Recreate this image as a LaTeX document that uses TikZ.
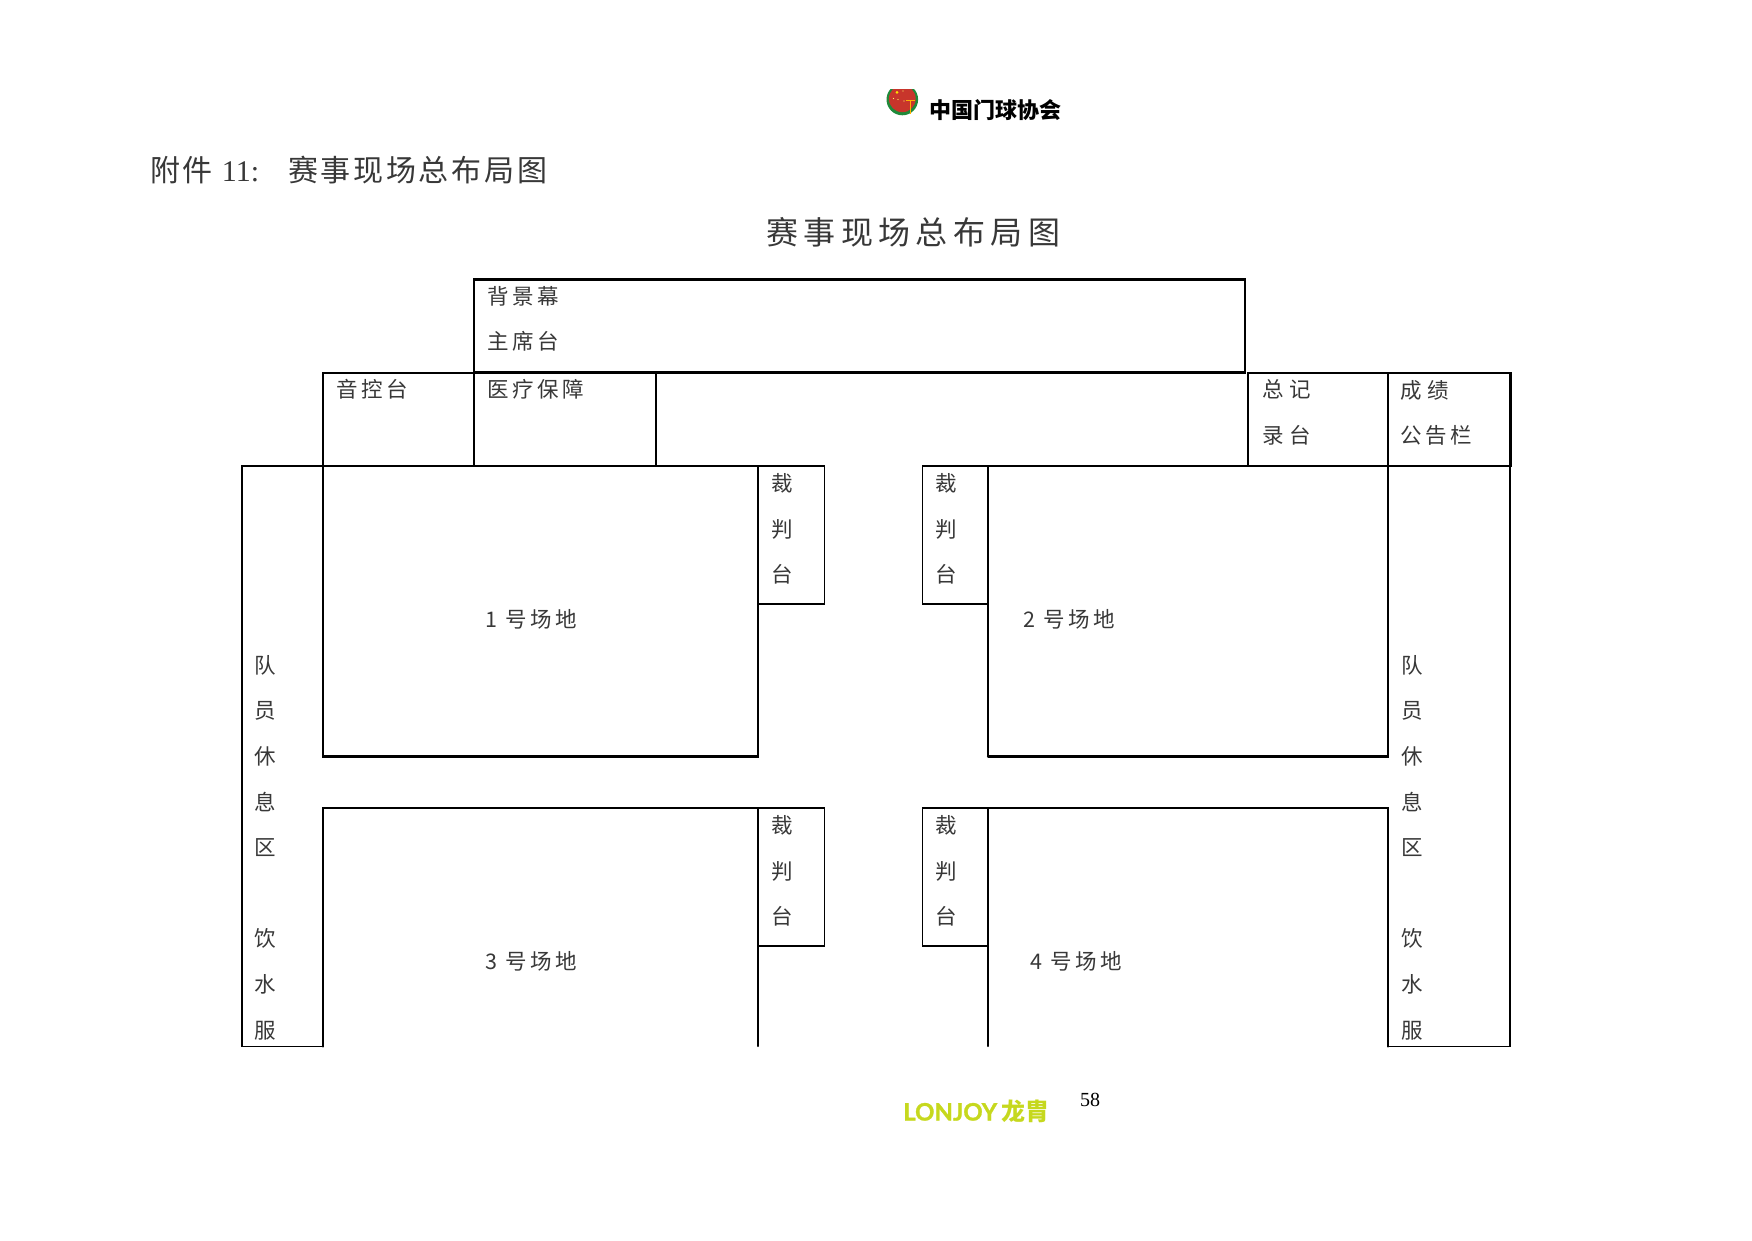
\documentclass[tikz,border=0pt]{standalone}
\usepackage{fontspec}
\setmainfont{Liberation Serif}
\newfontfamily\cjk{Noto Sans CJK SC}
\newfontfamily\lj[BoldFeatures={FakeBold=1.2}]{Lato}
\definecolor{ink}{gray}{0.22}
\definecolor{lime}{HTML}{C6D81E}
\definecolor{logored}{HTML}{C8352B}
\definecolor{logogreen}{HTML}{1F8A3A}
\newcommand\headcjk{\cjk\fontsize{30}{30}\selectfont\addfontfeature{LetterSpace=9}}
\tikzset{
  thick line/.style={line width=2.3pt,line cap=round,line join=miter},
  thin line/.style={line width=1.1pt,line cap=round},
  lab/.style={inner sep=0pt,anchor=west,text=ink,font=\cjk\fontsize{21.5}{21.5}\selectfont\addfontfeature{LetterSpace=16}},
  widelab/.style={lab,font=\cjk\fontsize{21.5}{21.5}\selectfont\addfontfeature{LetterSpace=25}},
  col/.style={inner sep=0pt,anchor=north,text=ink,align=center,font=\cjk\fontsize{21.5}{45.6}\selectfont},
}
\begin{document}
\begin{tikzpicture}[x=1pt,y=-1pt]
\useasboundingbox (0,0) rectangle (1752,1240);
% logo
\begin{scope}
\clip (880,89) rectangle (925,120);
\fill[logogreen] (902.3,99.5) circle (15.8);
\fill[logored] (902.3,98.8) circle (13.4);
\end{scope}
\fill[yellow!85!orange] (897,92.3) circle (1.5);
\foreach \p in {(903,91),(904,101),(898,99.5),(893.5,98.5)} \fill[yellow!60!white] \p circle (0.7);
\draw[orange!60!yellow,line width=0.8pt] (906,100) -- (915,100) (910,100) -- (910,114);
\node[inner sep=0pt,anchor=west,font=\cjk\bfseries\fontsize{22}{22}\selectfont] (assoc) at (929.5,110) {中国门球协会};
% headings
\node[inner sep=0pt,anchor=west,text=ink,font=\fontsize{30}{30}\selectfont] (head) at (150,170) {{\headcjk 附件}\hspace{9pt}11:\hspace{29pt}{\headcjk 赛事现场总布局图}};
\node[lab,font=\cjk\fontsize{32}{32}\selectfont\addfontfeature{LetterSpace=17}] (title) at (766,232.5) {赛事现场总布局图};
% boxes
\draw[thick line] (474,279.5) rectangle (1245,372.5);
\draw[thin line] (323,466) -- (323,373) -- (474,373);
\draw[thin line] (474,373) -- (474,466);
\draw[thin line] (656,373) -- (656,466);
\draw[thin line] (1248,466) -- (1248,373) -- (1388,373);
\draw[thick line] (1388,373) rectangle (1510.5,466);
\draw[thin line] (1510,466) -- (1510,1046.5) -- (1388,1046.5);
\draw[thin line] (323,466) -- (242,466) -- (242,1046.5) -- (323,1046.5);
% fields
\draw[thick line] (323,466) -- (758,466) -- (758,756.5) -- (323,756.5) -- cycle;
\draw[thick line] (988,756.5) -- (988,466) -- (1388,466) -- (1388,756.5) -- (988,756.5);
\draw[thick line] (323,1046.5) -- (323,808) -- (758,808) -- (758,1046);
\draw[thick line] (988,1046) -- (988,808) -- (1388,808) -- (1388,1046.5);
% referee tables
\foreach \t in {466,808}{
  \draw[thin line] (758,\t) -- (824.5,\t) -- (824.5,\t+138) -- (758,\t+138);
  \draw[thin line] (988,\t) -- (922.5,\t) -- (922.5,\t+138) -- (988,\t+138);
}
% labels
\node[lab] (bg) at (487,296) {背景幕};
\node[lab] (zx) at (487,341) {主席台};
\node[lab] (yk) at (336,389) {音控台};
\node[lab] (yl) at (487,389) {医疗保障};
\node[widelab] (zj) at (1262,389.5) {总记};
\node[widelab] (lt) at (1262,435.5) {录台};
\node[widelab] (cj) at (1400,390) {成绩};
\node[lab] (gg) at (1400,435.5) {公告栏};
\node[col] (jl1) at (782,473.5) {裁\\判\\台};
\node[col] (jl2) at (946,473.5) {裁\\判\\台};
\node[col] (jl3) at (782,815.5) {裁\\判\\台};
\node[col] (jl4) at (946,815.5) {裁\\判\\台};
\node[col] (lc) at (265,655) {队\\员\\休\\息\\区\\ \\饮\\水\\服};
\node[col] (rc) at (1412,655) {队\\员\\休\\息\\区\\ \\饮\\水\\服};
\node[lab] (f1) at (485,619.5) {1 号场地};
\node[lab] (f2) at (1023,619.5) {2 号场地};
\node[lab] (f3) at (485,961.5) {3 号场地};
\node[lab] (f4) at (1030,961.5) {4 号场地};
% footer
\node[inner sep=0pt,font=\fontsize{20}{20}\selectfont] (pg) at (1090,1100) {58};
\node[inner sep=0pt,anchor=base west,text=lime,font=\lj\bfseries\fontsize{24}{24}\selectfont] (lon) at (903,1120.5) {LONJOY};
\node[inner sep=0pt,anchor=base west,text=lime,font=\cjk\bfseries\fontsize{24}{24}\selectfont] (ljc) at (1001.5,1120.5) {龙胄};
\end{tikzpicture}
\end{document}
